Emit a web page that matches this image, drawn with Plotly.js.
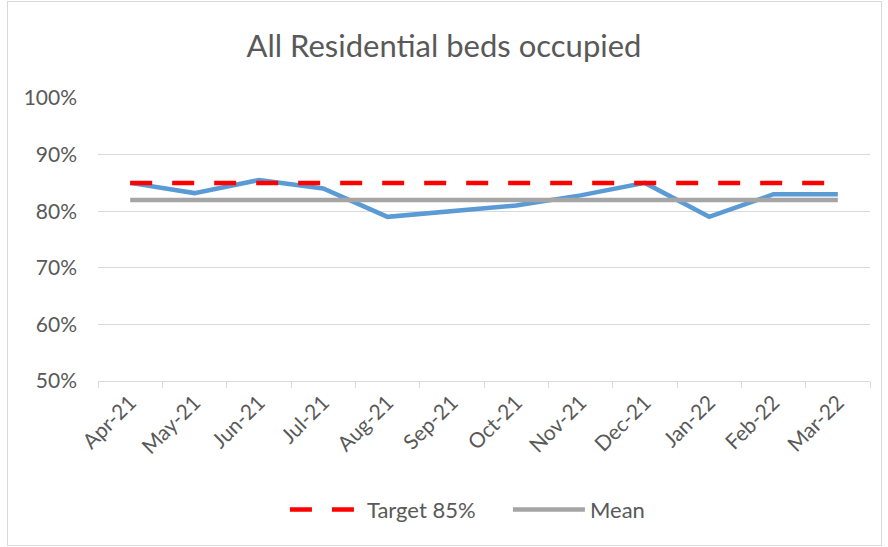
<!DOCTYPE html>
<html><head><meta charset="utf-8">
<script src="https://cdn.plot.ly/plotly-3.0.1.min.js"></script>
<style>
html,body{margin:0;padding:0;background:#fff;}
#chart{width:888px;height:547px;position:absolute;left:0;top:0;}
#frame{position:absolute;left:7px;top:1px;width:873px;height:543px;border:1px solid #d9d9d9;pointer-events:none;}
</style></head>
<body>
<div id="chart"></div>
<div id="frame"></div>
<script>
const months = ["Apr-21","May-21","Jun-21","Jul-21","Aug-21","Sep-21","Oct-21","Nov-21","Dec-21","Jan-22","Feb-22","Mar-22"];
const occupied = [0.85,0.832,0.855,0.84,0.79,0.80,0.81,0.828,0.85,0.79,0.83,0.83];
const target = [0.85,0.85,0.85,0.85,0.85,0.85,0.85,0.85,0.85,0.85,0.85,0.85];
const mean = [0.82,0.82,0.82,0.82,0.82,0.82,0.82,0.82,0.82,0.82,0.82,0.82];
const yTicks = [0.5,0.6,0.7,0.8,0.9,1.0];

const font = "Lato, sans-serif";
const traces = [
  {x: months, y: occupied, type:'scatter', mode:'lines', name:'Occupied', showlegend:false,
   line:{color:'#5B9BD5', width:4.5}},
  {x: months, y: target, type:'scatter', mode:'lines', name:'Target 85%',
   line:{color:'#FF0000', width:4.5, dash:'22px,20px'}},
  {x: months, y: mean, type:'scatter', mode:'lines', name:'Mean',
   line:{color:'#A5A5A5', width:4.5}}
];
const layout = {
  width:888, height:547,
  margin:{l:98, r:18, t:98, b:166},
  paper_bgcolor:'#fff', plot_bgcolor:'#fff',
  font:{family:font, color:'#595959', size:21},
  title:{text:'All Residential beds occupied', font:{size:31, color:'#595959', family:font}, x:0.5, xanchor:'center', y:0.915, yanchor:'middle'},
  xaxis:{type:'category', categoryorder:'array', categoryarray:months, range:[-0.5, 11.5], showgrid:false,
    showline:true, linecolor:'#d9d9d9', linewidth:1, ticks:'outside', tickson:'boundaries',
    ticklen:6, tickcolor:'#d9d9d9', tickangle:-45, tickfont:{size:21, color:'#595959'}, zeroline:false},
  yaxis:{range:[0.5,1.0], tickvals:yTicks, tickformat:'.0%', showgrid:true, gridcolor:'#d9d9d9', gridwidth:1,
    showline:false, zeroline:false, ticks:'', ticklabelstandoff:20, tickfont:{size:21, color:'#595959'}},
  legend:{orientation:'h', x:0.531, xanchor:'center', y:-0.455, yanchor:'middle',
    font:{size:22, color:'#595959'}, itemwidth:72, entrywidth:136, tracegroupgap:0},
  showlegend:true
};
Plotly.newPlot('chart', traces, layout, {displayModeBar:false, staticPlot:true});
</script>
</body></html>
